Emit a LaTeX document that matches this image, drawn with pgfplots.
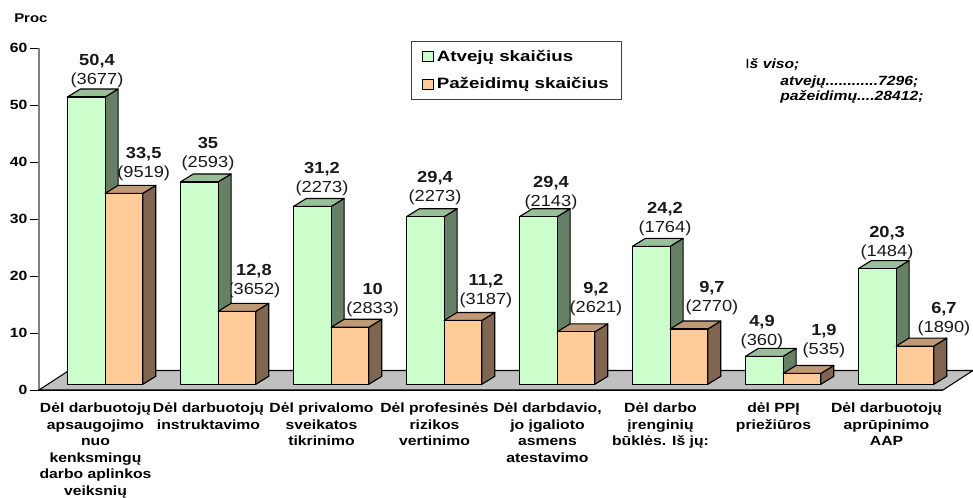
\documentclass[border=0pt]{standalone}
\usepackage{fontspec}
\setmainfont{Liberation Sans}
\newfontfamily\fa[FakeStretch=1.14]{Liberation Sans}
\newfontfamily\fb[FakeStretch=1.18]{Liberation Sans}
\newfontfamily\fc[FakeStretch=1.25]{Liberation Sans}
\usepackage{pgfplots}
\usepackage{pgfplotstable}
\pgfplotsset{compat=1.18}
\definecolor{gfront}{HTML}{CCFFCC}
\definecolor{gside}{HTML}{668066}
\definecolor{gtop}{HTML}{99BF99}
\definecolor{ofront}{HTML}{FFCC99}
\definecolor{oside}{HTML}{806650}
\definecolor{otop}{HTML}{BF9973}
\definecolor{floorc}{HTML}{C0C0C0}
\pgfdeclareplotmark{nothing}{}
\newcommand\lc[2]{\textbf{#1}\\(#2)}
% dx, dy: label offset from the top of the bar, in pixels of the reference
\pgfplotstableread{
x v lab dx dy
0 50.4 {\lc{50,4}{3677}} 10.75 27.5
1 35.5 {\lc{35}{2593}} 8.75 29.5
2 31.2 {\lc{31,2}{2273}} 9.75 29
3 29.4 {\lc{29,4}{2273}} 9.75 30.7
4 29.4 {\lc{29,4}{2143}} 12.75 25.7
5 24.2 {\lc{24,2}{1764}} 13.75 28.9
6 4.9 {\lc{4,9}{360}} -2.25 25.9
7 20.3 {\lc{20,3}{1484}} 9.75 27.1
}\atvejai
\pgfplotstableread{
x v lab dx dy
0 33.5 {\lc{33,5}{9519}} 19.7 30.8
1 12.8 {\lc{12,8}{3652}} 17 31.8
2 10 {\lc{10}{2833}} 22.7 29.3
3 11.2 {\lc{11,2}{3187}} 23 31.5
4 9.2 {\lc{9,2}{2621}} 20 34.4
5 9.7 {\lc{9,7}{2770}} 23 32.5
6 1.9 {\lc{1,9}{535}} 22 34
7 6.7 {\lc{6,7}{1890}} 29 29.1
}\pazeidimai
\pgfplotsset{
 faces/.style n args={5}{forget plot, only marks, mark=nothing, scatter, scatter src=y,
  visualization depends on=rawy \as \rawv,
  scatter/@pre marker code/.code={
   \pgfmathsetmacro\hh{\rawv*5.7*0.75}
   \begin{scope}
   \draw[black,line width=0.85pt,line join=round,fill=#3] ({#2*1pt},0pt) -- ({(#2+9.75)*1pt},6pt) -- ({(#2+9.75)*1pt},{(6-\hh)*1pt}) -- ({#2*1pt},{-\hh*1pt}) -- cycle;
   \draw[black,line width=0.85pt,line join=round,fill=#4] ({#1*1pt},0pt) -- ({(#1+9.75)*1pt},6pt) -- ({(#2+9.75)*1pt},6pt) -- ({#2*1pt},0pt) -- cycle;
   \draw[black,line width=0.85pt,line join=round,fill=#5] ({#1*1pt},0pt) rectangle ({#2*1pt},{-\hh*1pt});
   \end{scope}
  },
  scatter/@post marker code/.code={}},
 front/.style n args={2}{ybar, bar width=28.3pt, bar shift=#1, fill=#2, draw=black, line width=0.85pt,
  point meta=explicit symbolic,
  visualization depends on={\thisrow{dx} \as \ldx},
  visualization depends on={\thisrow{dy} \as \ldy},
  nodes near coords,
  nodes near coords align={center},
  every node near coord/.append style={align=center, anchor=center, inner sep=0pt,
   xshift={\ldx*0.75pt+#1}, yshift={(\ldy-2)*0.75pt},
   font=\fa\fontsize{12pt}{14.25pt}\selectfont, text=black!90},
  legend image code/.code={\draw[black,line width=0.7pt,fill=#2] (0pt,-3.6pt) rectangle (8.6pt,3.6pt);}},
}
\begin{document}
\begin{tikzpicture}
\useasboundingbox (0pt,0pt) rectangle (729.75pt,373.5pt);
\begin{axis}[
 at={(29.25pt,81pt)}, anchor=south west,
 scale only axis, width=678pt, height=256.5pt,
 clip=false,
 xmin=-0.5, xmax=7.5, ymin=-1, ymax=59,
 axis x line*=bottom, axis y line*=left,
 x axis line style={-,black,line width=0.9pt},
 y axis line style={-,black!50,line width=1.2pt},
 ytick={-1,9,19,29,39,49,59},
 yticklabels={0,10,20,30,40,50,60},
 yticklabel style={font=\fb\bfseries\fontsize{10pt}{12pt}\selectfont, inner sep=0pt, xshift=-2pt},
 y tick style={black,line width=0.7pt},
 tick align=outside,
 major tick length=6.5pt,
 xtick={0,...,7},
 x tick style={draw=none},
 minor xtick={-0.5,0.5,...,7.5},
 minor tick length=5.25pt,
 minor x tick style={black,line width=0.7pt},
 xticklabels={{Dėl darbuotojų\\apsaugojimo\\nuo\\kenksmingų\\darbo aplinkos\\veiksnių},
  {Dėl darbuotojų\\instruktavimo},
  {Dėl privalomo\\sveikatos\\tikrinimo},
  {Dėl profesinės\\rizikos\\vertinimo},
  {Dėl darbdavio,\\jo įgalioto\\asmens\\atestavimo},
  {Dėl darbo\\įrenginių\\būklės. Iš jų:},
  {dėl PPĮ\\priežiūros},
  {Dėl darbuotojų\\aprūpinimo\\AAP}},
 xticklabel style={font=\fb\bfseries\fontsize{10pt}{12.4pt}\selectfont, align=center, anchor=north, inner sep=0pt, yshift=-3pt},
 legend style={at={(0.4118,1.0214)}, anchor=north west, draw=black!75, line width=0.7pt,
  font=\fc\bfseries\fontsize{11.25pt}{13pt}\selectfont, inner xsep=7.5pt, inner ysep=4.5pt, row sep=7pt,
  /tikz/every even column/.append style={column sep=2.5pt}},
 legend cell align=left,
]
\addplot[fill=floorc,draw=black,line width=0.8pt,forget plot] coordinates {(-0.5,-1) (-0.2345,2.42) (7.7655,2.42) (7.5,-1)} -- cycle;
\addplot[front={-6.94pt}{gfront}] table[x=x,y=v,meta=lab] {\atvejai};
\addlegendentry{Atvejų skaičius}
\addplot[front={21.34pt}{ofront}] table[x=x,y=v,meta=lab] {\pazeidimai};
\addlegendentry{Pažeidimų skaičius}
\addplot[faces={-21.08}{7.2}{gside}{gtop}{gfront}] table[x=x,y=v] {\atvejai};
\addplot[faces={7.2}{35.48}{oside}{otop}{ofront}] table[x=x,y=v] {\pazeidimai};
\end{axis}
\node[font=\fb\bfseries\fontsize{9.5pt}{11pt}\selectfont,anchor=west,inner sep=0pt] at (10.5pt,360pt) {Proc};
\node[font=\fb\bfseries\itshape\fontsize{10pt}{12pt}\selectfont,anchor=west,inner sep=0pt] at (558.75pt,324.75pt) {{\upshape\mdseries I}š viso;};
\node[font=\fb\bfseries\itshape\fontsize{10pt}{12pt}\selectfont,anchor=west,inner sep=0pt] at (585pt,312.2pt) {atvejų............7296;};
\node[font=\fb\bfseries\itshape\fontsize{10pt}{12pt}\selectfont,anchor=west,inner sep=0pt] at (585pt,300.5pt) {pažeidimų....28412;};
\end{tikzpicture}
\end{document}
